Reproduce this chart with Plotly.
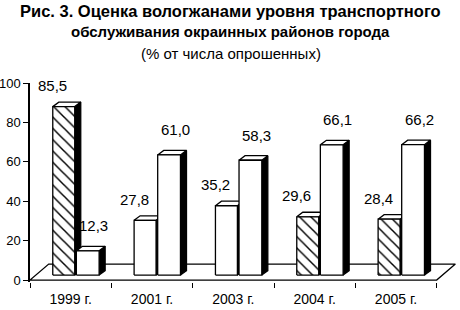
import plotly.graph_objects as go

categories = ["1999 г.", "2001 г.", "2003 г.", "2004 г.", "2005 г."]
series_a = [85.5, 27.8, 35.2, 29.6, 28.4]
series_b = [12.3, 61.0, 58.3, 66.1, 66.2]
hatched_a = [True, False, False, True, True]
y_ticks = [0, 20, 40, 60, 80, 100]
title_lines = [
    "Рис. 3. Оценка вологжанами уровня транспортного",
    "обслуживания окраинных районов города",
    "(% от числа опрошенных)",
]

NARROW = "Liberation Sans Narrow, Arial Narrow, Liberation Sans, Arial"
BASE = 2.5      # bars stand slightly back on the floor
DX, DY = 0.074, 2.3   # bar depth (x units, y units)
FX, FY = 0.23, 8.1    # floor depth
LINE = dict(color="black", width=1.3)

fig = go.Figure()

# floor
fig.add_trace(go.Scatter(
    x=[-0.5, len(categories) - 0.5, len(categories) - 0.5 + FX, -0.5 + FX, -0.5],
    y=[0, 0, FY, FY, 0], mode="lines", fill="toself", fillcolor="white",
    line=LINE, hoverinfo="skip", showlegend=False))


def add_bar(xl, xr, v, hatch):
    b, t = BASE, BASE + v
    fig.add_trace(go.Scatter(
        x=[xr, xr + DX, xr + DX, xr, xr], y=[b, b + DY, t + DY, t, b],
        mode="lines", fill="toself", fillcolor="black", line=LINE,
        hoverinfo="skip", showlegend=False))
    fig.add_trace(go.Scatter(
        x=[xl, xl + DX, xr + DX, xr, xl], y=[t, t + DY, t + DY, t, t],
        mode="lines", fill="toself", fillcolor="white", line=LINE,
        hoverinfo="skip", showlegend=False))
    kw = {}
    if hatch:
        kw["fillpattern"] = dict(shape="\\", fgcolor="black", bgcolor="white",
                                 size=8, solidity=0.18, fillmode="replace")
    fig.add_trace(go.Scatter(
        x=[xl, xr, xr, xl, xl], y=[b, b, t, t, b],
        mode="lines", fill="toself", fillcolor="white", line=LINE,
        hoverinfo="skip", showlegend=False, **kw))


def fmt(v):
    return f"{v:.1f}".replace(".", ",")


annotations = []
for i, v in enumerate(series_a):
    xl, xr = i - 0.22, i + 0.05
    add_bar(xl, xr, v, hatched_a[i])
    annotations.append(dict(x=(xl + xr) / 2, y=BASE + v, text=fmt(v), showarrow=False,
                            xshift=-11, yshift=21, font=dict(family=NARROW, size=15, color="black")))
for i, v in enumerate(series_b):
    xl, xr = i + 0.07, i + 0.35
    add_bar(xl, xr, v, False)
    annotations.append(dict(x=(xl + xr) / 2, y=BASE + v, text=fmt(v), showarrow=False,
                            xshift=6, yshift=25, font=dict(family=NARROW, size=15, color="black")))

# title lines (plot area spans page rows 83..282)
title_rows = [11, 32, 53]
title_sizes = [16.5, 15, 15]
for k, (line, row, size) in enumerate(zip(title_lines, title_rows, title_sizes)):
    annotations.append(dict(
        x=0.5, xref="paper", xshift=-13, y=(282 - row) / 199, yref="paper",
        xanchor="center", yanchor="middle", showarrow=False,
        text=("<b>" + line + "</b>") if k < 2 else line,
        font=dict(family="Liberation Sans, Arial", size=size, color="black")))

fig.update_layout(
    width=460, height=310,
    margin=dict(l=30, r=3, t=83, b=28, autoexpand=False),
    paper_bgcolor="white", plot_bgcolor="white",
    showlegend=False,
    annotations=annotations,
    xaxis=dict(
        range=[-0.5, len(categories) - 0.5 + 0.25],
        tickvals=list(range(len(categories))), ticktext=categories,
        ticks="outside", ticklen=4, tickcolor="rgba(0,0,0,0)",
        minor=dict(ticks="outside", ticklen=5, tick0=-0.5, dtick=1, tickcolor="black", tickwidth=1.3),
        showline=False, showgrid=False, zeroline=False, automargin=False,
        tickfont=dict(family=NARROW, size=14, color="black"),
    ),
    yaxis=dict(
        range=[-1, 100], tickvals=y_ticks,
        ticks="outside", ticklen=5, tickcolor="black", tickwidth=1.3,
        showline=True, linecolor="black", linewidth=1.5,
        showgrid=False, zeroline=False, automargin=False,
        tickfont=dict(family=NARROW, size=13, color="black"),
    ),
)

fig.write_html("out.html", config={"displayModeBar": False},
               post_script="document.body.style.margin='0';")
